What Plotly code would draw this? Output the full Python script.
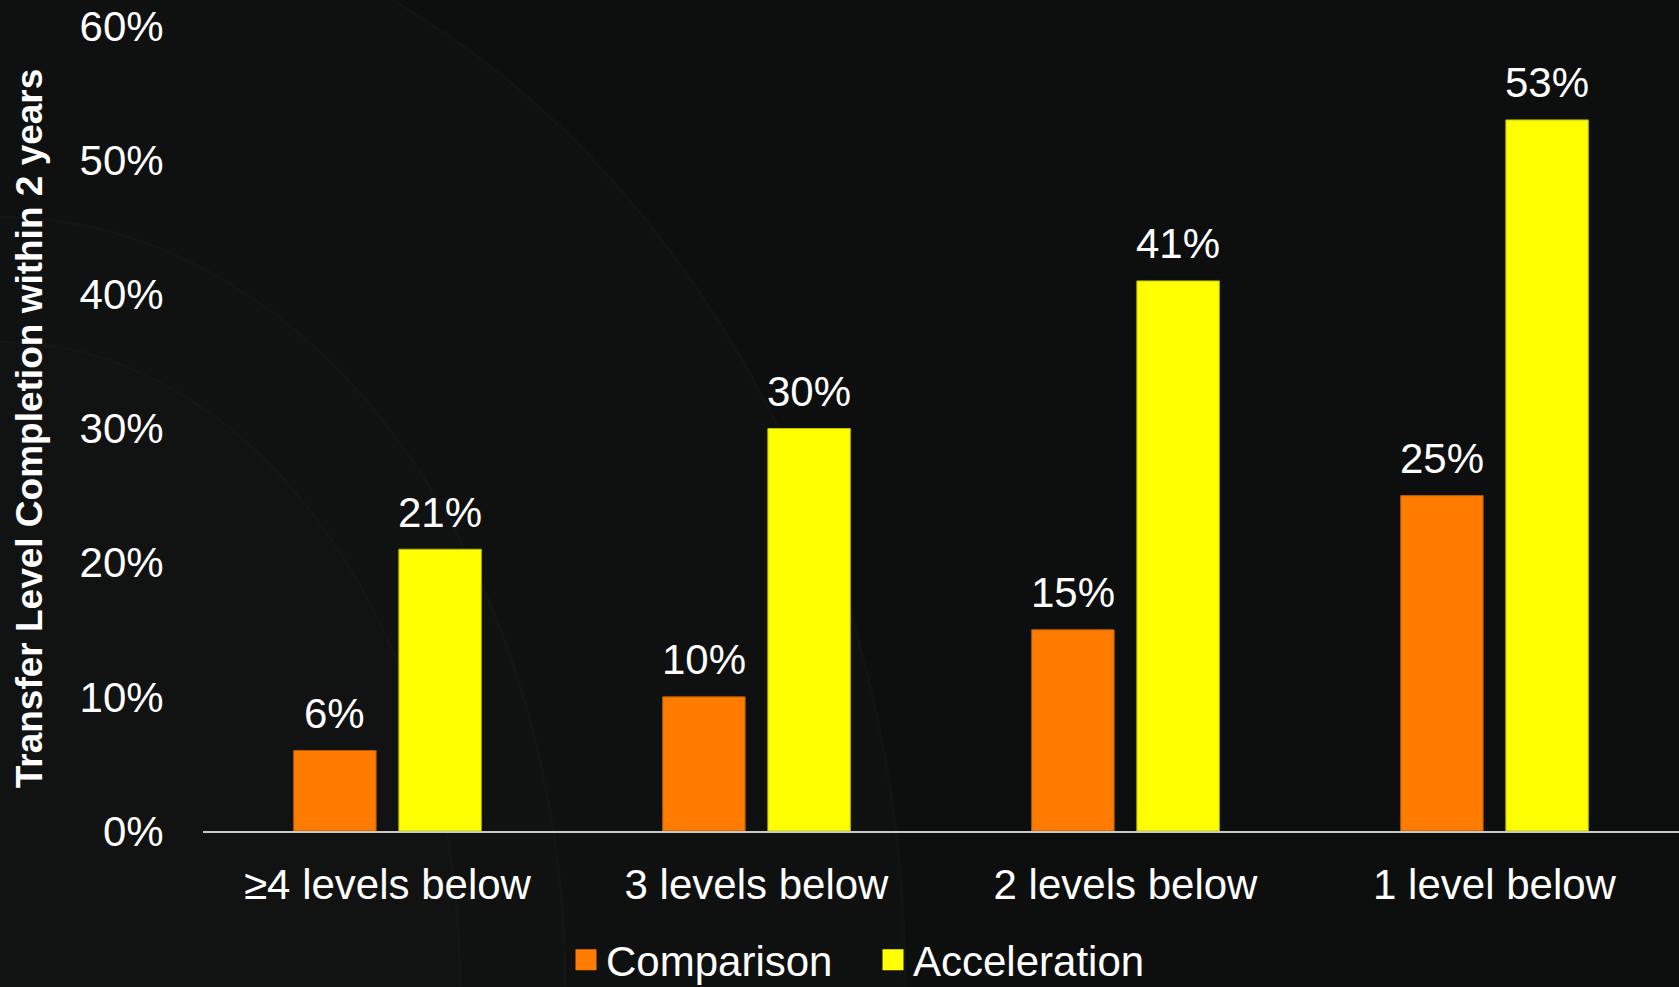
import plotly.graph_objects as go

# ---- data -------------------------------------------------------------
categories = ["≥4 levels below", "3 levels below", "2 levels below", "1 level below"]
comparison = [6, 10, 15, 25]
acceleration = [21, 30, 41, 53]
y_ticks = [0, 10, 20, 30, 40, 50, 60]
y_tick_labels = [f"{t}%" for t in y_ticks]

# ---- styling ----------------------------------------------------------
W, H = 1679, 987
M_L, M_R, M_T, M_B = 203, 0, 26, 156
BG = "#0d0e0e"
ORANGE = "#ff7c00"
YELLOW = "#ffff00"
FONT = "Liberation Sans"
FS = 42
BARGAP = 0.43
BARGROUPGAP = 0.216

PLOT_W = W - M_L - M_R
PLOT_H = H - M_T - M_B


def px_x(px):
    return (px - M_L) / PLOT_W


def px_y(py):
    return (H - M_B - py) / PLOT_H


fig = go.Figure()

fig.add_trace(go.Bar(
    x=categories, y=comparison, name="Comparison",
    marker=dict(color=ORANGE, line=dict(color="#b55a00", width=1)),
    showlegend=False, hoverinfo="skip",
))
fig.add_trace(go.Bar(
    x=categories, y=acceleration, name="Acceleration",
    marker=dict(color=YELLOW, line=dict(color="#bcbc00", width=1)),
    showlegend=False, hoverinfo="skip",
))

# legend entries with larger square swatches
for name, col in (("Comparison", ORANGE), ("Acceleration", YELLOW)):
    fig.add_trace(go.Scatter(
        x=[None], y=[None], mode="markers", name=name,
        marker=dict(symbol="square", size=16, color=col,
                    line=dict(color=col, width=5)),
    ))

# value labels above each bar
half = (1 - BARGAP) / 4
annotations = []
for i, (c, a) in enumerate(zip(comparison, acceleration)):
    for xv, v in ((i - half, c), (i + half, a)):
        annotations.append(dict(
            x=xv, y=v, xref="x", yref="y", text=f"{v}%",
            showarrow=False, yanchor="middle", yshift=37,
            font=dict(family=FONT, size=FS, color="#ffffff"),
        ))

# faint concentric arcs in the background
shapes = []
arcs = [  # (rx, ry, fill, edge)
    (905, 1095, "#0f1010", "#121313"),
    (565, 770, "#101111", "#131414"),
    (460, 645, "#111212", "#141515"),
]
for rx, ry, fill, edge in arcs:
    shapes.append(dict(
        type="circle", xref="paper", yref="paper", layer="below",
        x0=px_x(-rx), x1=px_x(rx), y0=px_y(H + ry), y1=px_y(H - ry),
        fillcolor=fill, line=dict(color=edge, width=3),
    ))

fig.update_layout(
    width=W, height=H,
    margin=dict(l=M_L, r=M_R, t=M_T, b=M_B, autoexpand=False),
    paper_bgcolor=BG, plot_bgcolor="rgba(0,0,0,0)",
    barmode="group", bargap=BARGAP, bargroupgap=BARGROUPGAP,
    font=dict(family=FONT, size=FS, color="#ffffff"),
    showlegend=True,
    legend=dict(
        orientation="h", xref="container", yref="container",
        x=566 / W, xanchor="left", y=(H - 960) / H, yanchor="middle",
        font=dict(family=FONT, size=FS, color="#ffffff"),
        bgcolor="rgba(0,0,0,0)", entrywidth=262, itemwidth=30,
    ),
    annotations=annotations,
    shapes=shapes,
    hovermode=False,
)

fig.update_xaxes(
    type="category", showgrid=False, zeroline=False,
    showline=True, linecolor="#c8c8c8", linewidth=2,
    ticks="outside", ticklen=16, tickcolor="rgba(0,0,0,0)",
    tickfont=dict(family=FONT, size=FS, color="#ffffff"),
    automargin=False,
)
fig.update_yaxes(
    range=[0, 60], tickvals=y_ticks, ticktext=y_tick_labels,
    showgrid=False, zeroline=False, showline=False,
    ticks="outside", ticklen=30, tickcolor="rgba(0,0,0,0)",
    tickfont=dict(family=FONT, size=FS, color="#ffffff"),
    title=dict(text="Transfer Level Completion within 2 years",
               font=dict(family=FONT, size=37, color="#ffffff", weight="bold"),
               standoff=25),
    automargin=False,
)

fig.write_html("out.html", config={"displayModeBar": False})
